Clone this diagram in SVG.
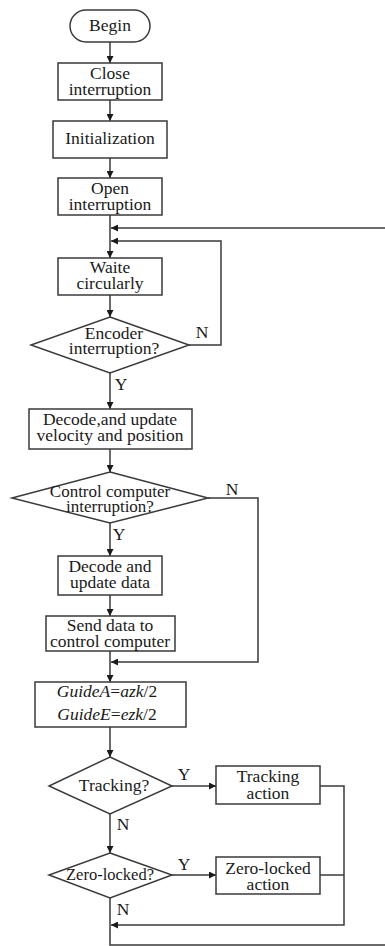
<svg xmlns="http://www.w3.org/2000/svg" width="385" height="946" viewBox="0 0 385 946">
<defs>
<style>
.box{fill:#fff;stroke:#3a3a3a;stroke-width:1.5}
.t{font-family:"Liberation Serif","Times New Roman",serif;font-size:17.5px;fill:#1a1a1a;text-anchor:middle}
.s{font-size:16.5px}
.it{font-style:italic}
.ln{fill:none;stroke:#3a3a3a;stroke-width:1.5}
</style>
<marker id="ah" viewBox="0 0 10 10" refX="10" refY="5" markerWidth="7" markerHeight="7" markerUnits="userSpaceOnUse" orient="auto">
<path d="M0,0 L10,5 L0,10 z" fill="#1a1a1a"/>
</marker>
</defs>
<rect width="385" height="946" fill="#fff"/>
<g id="connectors">
<path class="ln" d="M110,42 V63" marker-end="url(#ah)"/>
<path class="ln" d="M110,100 V121" marker-end="url(#ah)"/>
<path class="ln" d="M110,158 V178" marker-end="url(#ah)"/>
<path class="ln" d="M110,215 V258" marker-end="url(#ah)"/>
<path class="ln" d="M385,228 H111" marker-end="url(#ah)"/>
<path class="ln" d="M189,345 H221 V241 H111" marker-end="url(#ah)"/>
<path class="ln" d="M110,295 V317" marker-end="url(#ah)"/>
<path class="ln" d="M110,373 V409" marker-end="url(#ah)"/>
<path class="ln" d="M110,449 V472" marker-end="url(#ah)"/>
<path class="ln" d="M208,498 H258 V662 H111" marker-end="url(#ah)"/>
<path class="ln" d="M110,523 V556" marker-end="url(#ah)"/>
<path class="ln" d="M110,595 V616" marker-end="url(#ah)"/>
<path class="ln" d="M110,651 V682" marker-end="url(#ah)"/>
<path class="ln" d="M110,727 V757" marker-end="url(#ah)"/>
<path class="ln" d="M172,786 H216" marker-end="url(#ah)"/>
<path class="ln" d="M320,786 H344 V925 H111" marker-end="url(#ah)"/>
<path class="ln" d="M320,875 H344"/>
<path class="ln" d="M110,814 V853" marker-end="url(#ah)"/>
<path class="ln" d="M172,875 H216" marker-end="url(#ah)"/>
<path class="ln" d="M110,898 V945 H385"/>
<text class="t" x="202" y="338">N</text>
<text class="t" x="121" y="390">Y</text>
<text class="t" x="232" y="495">N</text>
<text class="t" x="119" y="540">Y</text>
<text class="t" x="184" y="780">Y</text>
<text class="t" x="123" y="830">N</text>
<text class="t" x="184" y="870">Y</text>
<text class="t" x="123" y="915">N</text>
</g>
<g id="begin">
<rect class="box" x="70" y="10" width="80" height="32" rx="16"/>
<text class="t" x="110" y="31">Begin</text>
</g>
<g id="close">
<rect class="box" x="58" y="63" width="104" height="37"/>
<text class="t" x="110" y="79">Close</text>
<text class="t" x="110" y="94.5">interruption</text>
</g>
<g id="init">
<rect class="box" x="53" y="121" width="114" height="37"/>
<text class="t" x="110" y="144">Initialization</text>
</g>
<g id="open">
<rect class="box" x="58" y="178" width="104" height="37"/>
<text class="t" x="110" y="194">Open</text>
<text class="t" x="110" y="209.5">interruption</text>
</g>
<g id="wait">
<rect class="box" x="58" y="258" width="104" height="37"/>
<text class="t" x="110" y="273">Waite</text>
<text class="t" x="110" y="288.5">circularly</text>
</g>
<g id="encoder">
<polygon class="box" points="110,317 189,345 110,373 31,345"/>
<text class="t" x="114" y="339">Encoder</text>
<text class="t" x="114" y="354">interruption?</text>
</g>
<g id="decode1">
<rect class="box" x="29" y="409" width="163" height="40"/>
<text class="t" x="110" y="425">Decode,and update</text>
<text class="t" x="110" y="441">velocity and position</text>
</g>
<g id="control">
<polygon class="box" points="110,472 208,498 110,523 12,498"/>
<text class="t" x="110" y="497" style="font-size:17px">Control computer</text>
<text class="t" x="110" y="512" style="font-size:17px">interruption?</text>
</g>
<g id="decode2">
<rect class="box" x="58" y="556" width="104" height="39"/>
<text class="t" x="110" y="572">Decode and</text>
<text class="t" x="110" y="588">update data</text>
</g>
<g id="send">
<rect class="box" x="46" y="616" width="129" height="35"/>
<text class="t" x="110" y="631">Send data to</text>
<text class="t" x="110" y="646.5">control computer</text>
</g>
<g id="guide">
<rect class="box" x="35" y="682" width="151" height="45"/>
<text class="t" x="107" y="697"><tspan class="it">GuideA</tspan>=<tspan class="it">azk</tspan>/2</text>
<text class="t" x="107" y="720"><tspan class="it">GuideE</tspan>=<tspan class="it">ezk</tspan>/2</text>
</g>
<g id="tracking">
<polygon class="box" points="110,757 172,786 110,814 49,786"/>
<text class="t" x="114" y="791">Tracking?</text>
</g>
<g id="trackact">
<rect class="box" x="216" y="766" width="104" height="38"/>
<text class="t" x="268" y="782">Tracking</text>
<text class="t" x="268" y="799">action</text>
</g>
<g id="zero">
<polygon class="box" points="110,853 172,875 110,898 49,875"/>
<text class="t s" x="110" y="880">Zero-locked?</text>
</g>
<g id="zeroact">
<rect class="box" x="216" y="857" width="104" height="37"/>
<text class="t" x="268" y="874">Zero-locked</text>
<text class="t" x="268" y="890">action</text>
</g>
</svg>
